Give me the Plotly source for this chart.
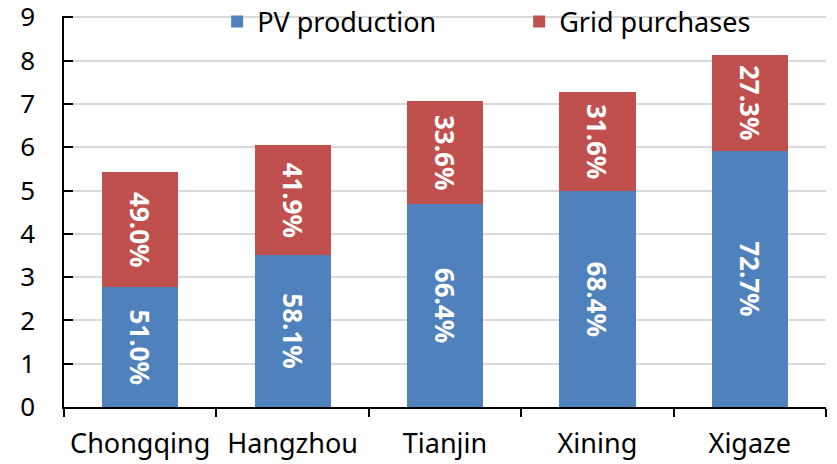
import plotly.graph_objects as go

# Annual electricity supply per city, split into PV output and grid purchases
cities = ["Chongqing", "Hangzhou", "Tianjin", "Xining", "Xigaze"]
total_demand = [5.42, 6.04, 7.06, 7.28, 8.14]
pv_share = [51.0, 58.1, 66.4, 68.4, 72.7]
grid_share = [49.0, 41.9, 33.6, 31.6, 27.3]
y_ticks = [0, 1, 2, 3, 4, 5, 6, 7, 8, 9]

pv_values = [t * s / 100 for t, s in zip(total_demand, pv_share)]
grid_values = [t * s / 100 for t, s in zip(total_demand, grid_share)]

FONT = "Noto Sans"
BLUE = "#4F81BD"
RED = "#C0504D"

label_font = dict(family=FONT, size=26, color="white", weight="bold")

fig = go.Figure()
fig.add_trace(go.Bar(
    x=cities, y=pv_values, name="PV production",
    marker=dict(color=BLUE, line=dict(width=0)),
    text=[f"{s:.1f}%" for s in pv_share],
    textposition="inside", insidetextanchor="middle", textangle=90,
    textfont=label_font, constraintext="none",
))
fig.add_trace(go.Bar(
    x=cities, y=grid_values, name="Grid purchases",
    marker=dict(color=RED, line=dict(width=0)),
    text=[f"{s:.1f}%" for s in grid_share],
    textposition="inside", insidetextanchor="middle", textangle=90,
    textfont=label_font, constraintext="none",
))

fig.update_layout(
    barmode="stack",
    bargap=0.5,
    width=837, height=464,
    margin=dict(l=64, r=11, t=16, b=57, autoexpand=False),
    plot_bgcolor="white", paper_bgcolor="white",
    font=dict(family=FONT, size=26, color="black"),
    showlegend=True,
    legend=dict(
        orientation="h", x=0.201, y=0.985, xanchor="left", yanchor="middle",
        bgcolor="rgba(0,0,0,0)", font=dict(family=FONT, size=27, color="black"),
        traceorder="normal", entrywidth=257,
    ),
)

fig.update_xaxes(
    showline=True, linecolor="black", linewidth=1.5,
    ticks="outside", ticklen=8, tickcolor="black", tickwidth=1.5,
    tickson="boundaries", ticklabelstandoff=12,
    tickfont=dict(family=FONT, size=27, color="black"),
    showgrid=False,
)
fig.update_yaxes(
    range=[0, 9.03], tickvals=y_ticks,
    showline=True, linecolor="black", linewidth=1.5,
    ticks="inside", ticklen=9, tickcolor="black", tickwidth=1.5,
    ticklabelstandoff=22, ticklabeloverflow="allow",
    tickfont=dict(family=FONT, size=26, color="black"),
    showgrid=True, gridcolor="#D9D9D9", gridwidth=1.5,
    zeroline=False,
)

fig.write_html("out.html")
